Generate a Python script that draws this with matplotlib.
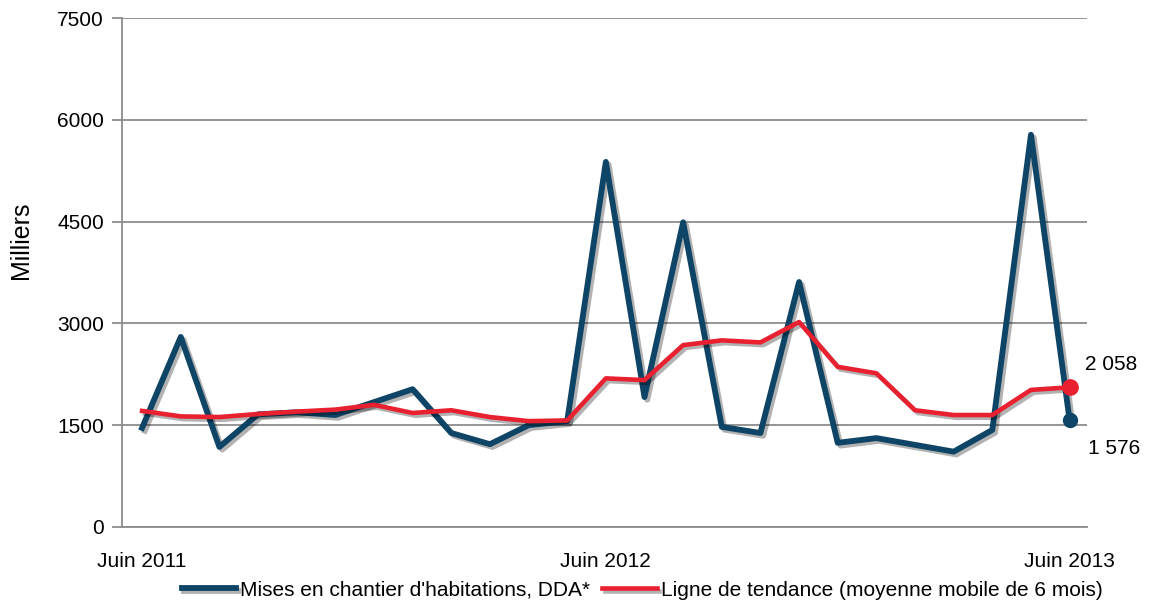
import matplotlib.pyplot as plt
import matplotlib.patheffects as pe

plt.rcParams['font.family'] = ['Liberation Sans', 'DejaVu Sans']

months = list(range(25))
tick_pos = [0, 12, 24]
tick_labels = ["Juin 2011", "Juin 2012", "Juin 2013"]
mises = [1460, 2800, 1180, 1660, 1690, 1650, 1840, 2030, 1385, 1220, 1500, 1560,
         5380, 1915, 4490, 1475, 1385, 3610, 1240, 1310, 1210, 1110, 1430, 5780, 1576]
tendance = [1710, 1630, 1620, 1665, 1700, 1730, 1800, 1680, 1720, 1620, 1560, 1570,
            2190, 2165, 2680, 2750, 2720, 3020, 2360, 2265, 1720, 1650, 1650, 2020, 2058]
yticks = [0, 1500, 3000, 4500, 6000, 7500]

blue = "#0e4466"
red = "#e8202f"
shadow = [pe.SimpleLineShadow(offset=(2, -2), alpha=0.3, rho=0.3), pe.Normal()]

fig = plt.figure(figsize=(11.5, 6.07), dpi=100)
ax = fig.add_axes([122 / 1150, 1 - 527 / 607, (1087 - 122) / 1150, (527 - 18) / 607])

l1, = ax.plot(months, mises, color=blue, lw=4.2, path_effects=shadow,
              label="Mises en chantier d'habitations, DDA*", zorder=3)
l2, = ax.plot(months, tendance, color=red, lw=3.3, path_effects=shadow,
              label="Ligne de tendance (moyenne mobile de 6 mois)", zorder=4)
ax.plot(months[-1], mises[-1], "o", color=blue, ms=10, zorder=5)
ax.plot(months[-1], tendance[-1], "o", color=red, ms=11, zorder=5)

ax.text(months[-1] + 0.4, tendance[-1] + 330, "2 058", fontsize=15, va="center")
ax.text(months[-1] + 0.47, mises[-1] - 420, "1 576", fontsize=15, va="center")

ax.set_xlim(-0.52, 24.45)
ax.set_ylim(0, 7500)
ax.set_yticks(yticks)
ax.set_yticklabels([str(v) for v in yticks], fontsize=15)
ax.set_xticks(tick_pos)
ax.set_xticklabels(tick_labels, fontsize=15)
ax.tick_params(axis="x", length=0, pad=18)
ax.tick_params(axis="y", length=7, color="#8c8c8c", width=1.3, pad=6)
ax.yaxis.grid(True, color="#8c8c8c", lw=1.3)
ax.set_axisbelow(True)
for s in ["top", "right"]:
    ax.spines[s].set_visible(False)
for s in ["left", "bottom"]:
    ax.spines[s].set_color("#8c8c8c")
    ax.spines[s].set_linewidth(1.3)

ax.set_ylabel("Milliers", fontsize=18)
ax.yaxis.set_label_coords(-0.092, 0.564)

fig.legend(handles=[l1, l2], loc="center", bbox_to_anchor=(642 / 1150, 1 - 590 / 607),
           ncol=2, frameon=False, fontsize=15, handlelength=2.6, handletextpad=0.2,
           columnspacing=0.6, borderpad=0)

fig.savefig("out.png", dpi=100)
